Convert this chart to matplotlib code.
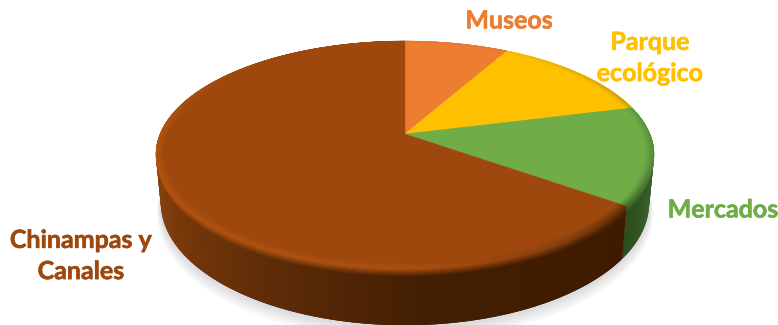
import numpy as np
import matplotlib
matplotlib.use("Agg")
import matplotlib.pyplot as plt
import matplotlib.patheffects as pe
from matplotlib.collections import PolyCollection
from matplotlib.colors import to_rgb

labels = ["Museos", "Parque\necológico", "Mercados", "Chinampas y\nCanales"]
values = [8, 13, 14, 65]
top_colors = ["#ED7D31", "#FFC000", "#70AD47", "#9E480E"]

# shading along the wall and the rounded rim, as (angle, colour) stops
wall_stops = [
    [(0, "#B05A20"), (29, "#B05A20")],
    [(29, "#B38700"), (75, "#A67D00")],
    [(75, "#3F6F2C"), (105, "#38622A"), (126, "#2C4C1C")],
    [(126, "#3E1B00"), (175, "#421E02"), (205, "#5C2B08"), (235, "#773809"), (270, "#8A430D"), (360, "#8A430D")],
]
rim_stops = [
    [(0, "#E8792E"), (29, "#E8792E")],
    [(29, "#F7BA00"), (75, "#C89A10")],
    [(75, "#5F9A3C"), (105, "#4F8236"), (126, "#3F6A2A")],
    [(126, "#5A2A06"), (150, "#8A400C"), (180, "#AC5010"), (235, "#B5540F"), (275, "#B8560F"), (310, "#A24A0C"), (360, "#9E480E")],
]

# pie geometry in pixels
CX, CY = 405, 134
RX, RY = 245, 109.8
TILT = 0.18
DEPTH = 47
TAPER = 0.02


def project(theta, r=1.0, drop=0.0):
    a = np.radians(theta)
    u, v = r * np.sin(a), r * np.cos(a)
    w = 1 + TILT * v
    x = CX + RX * u / w * (1 - TAPER * drop)
    y = CY - RY * v / w + drop * DEPTH / w
    return np.column_stack([x, y])


def stop_color(stops, theta):
    angles = [s[0] for s in stops]
    rgb = np.array([to_rgb(s[1]) for s in stops])
    return np.array([np.interp(theta, angles, rgb[:, i]) for i in range(3)])


fig = plt.figure(figsize=(7.78, 3.25), dpi=100)
ax = fig.add_axes([0, 0, 1, 1])
ax.set_xlim(0, 778)
ax.set_ylim(325, 0)
ax.axis("off")

edges = np.concatenate([[0], np.cumsum(values) / np.sum(values) * 360])

# soft shadow under the disc
full = np.linspace(0, 360, 361)
for i in range(10):
    outline = project(full, 1 + 0.002 * i, 1 + 0.012 * i)
    outline[:, 1] += 0.6 * i
    ax.fill(outline[:, 0], outline[:, 1], color="#8A8A96", alpha=0.035, lw=0, zorder=1)

# wall of each slice; quads overlap slightly so no seams show between them
zlevel = 2
drops = np.concatenate([np.linspace(1.0, 0.16, 2), np.linspace(0.14, 0.0, 8)])
for i in range(len(values)):
    thetas = np.arange(edges[i], edges[i + 1] + 0.25, 0.25)
    thetas[-1] = edges[i + 1]
    if thetas[-1] <= thetas[-2]:
        thetas = thetas[:-1]
    quads, colors = [], []
    for k in range(len(drops) - 1):
        s = min(1.0, drops[k + 1] / 0.14)
        for a0, a1 in zip(thetas[:-1], thetas[1:]):
            mid = (a0 + a1) / 2
            wall = stop_color(wall_stops[i], mid)
            rim = stop_color(rim_stops[i], mid)
            far = min(a1 + 0.4, edges[i + 1])
            q = np.vstack([project(np.array([a0, far]), 1, drops[k]),
                           project(np.array([far, a0]), 1, max(drops[k + 1] - 0.01, 0))])
            quads.append(q)
            colors.append(rim * (1 - s) + wall * s)
    ax.add_collection(PolyCollection(quads, facecolors=colors, edgecolors="none", zorder=zlevel))

# top faces
for i in range(len(values)):
    thetas = np.linspace(edges[i], edges[i + 1], 200)
    pts = np.vstack([[CX, CY], project(thetas)])
    ax.fill(pts[:, 0], pts[:, 1], color=top_colors[i], lw=0.3, zorder=3)

# rounded rim on the top faces, outer ring first so inner rings overlap it
rings = np.linspace(1.0, 0.965, 8)
for i in range(len(values)):
    base = np.array(to_rgb(top_colors[i]))
    thetas = np.arange(edges[i], edges[i + 1], 0.25)
    thetas = np.append(thetas, edges[i + 1])
    quads, colors = [], []
    for k in range(len(rings) - 1):
        s = (k + 0.5) / (len(rings) - 1)
        for a0, a1 in zip(thetas[:-1], thetas[1:]):
            rim = stop_color(rim_stops[i], (a0 + a1) / 2)
            far = min(a1 + 0.4, edges[i + 1])
            q = np.vstack([project(np.array([a0, far]), rings[k]),
                           project(np.array([far, a0]), rings[k + 1] - 0.002)])
            quads.append(q)
            colors.append(rim * (1 - s) + base * s)
    ax.add_collection(PolyCollection(quads, facecolors=colors, edgecolors="none", zorder=4))

# slice labels
label_pos = [(509, 21), (650, 58), (723, 210), (81, 256)]
for i, name in enumerate(labels):
    ax.text(label_pos[i][0], label_pos[i][1], name, color=top_colors[i], family="Lato",
            fontweight="bold", fontsize=18, ha="center", va="center", linespacing=1.43, zorder=5,
            path_effects=[pe.withStroke(linewidth=0.4, foreground=top_colors[i])])

fig.savefig("out.png", dpi=100)
